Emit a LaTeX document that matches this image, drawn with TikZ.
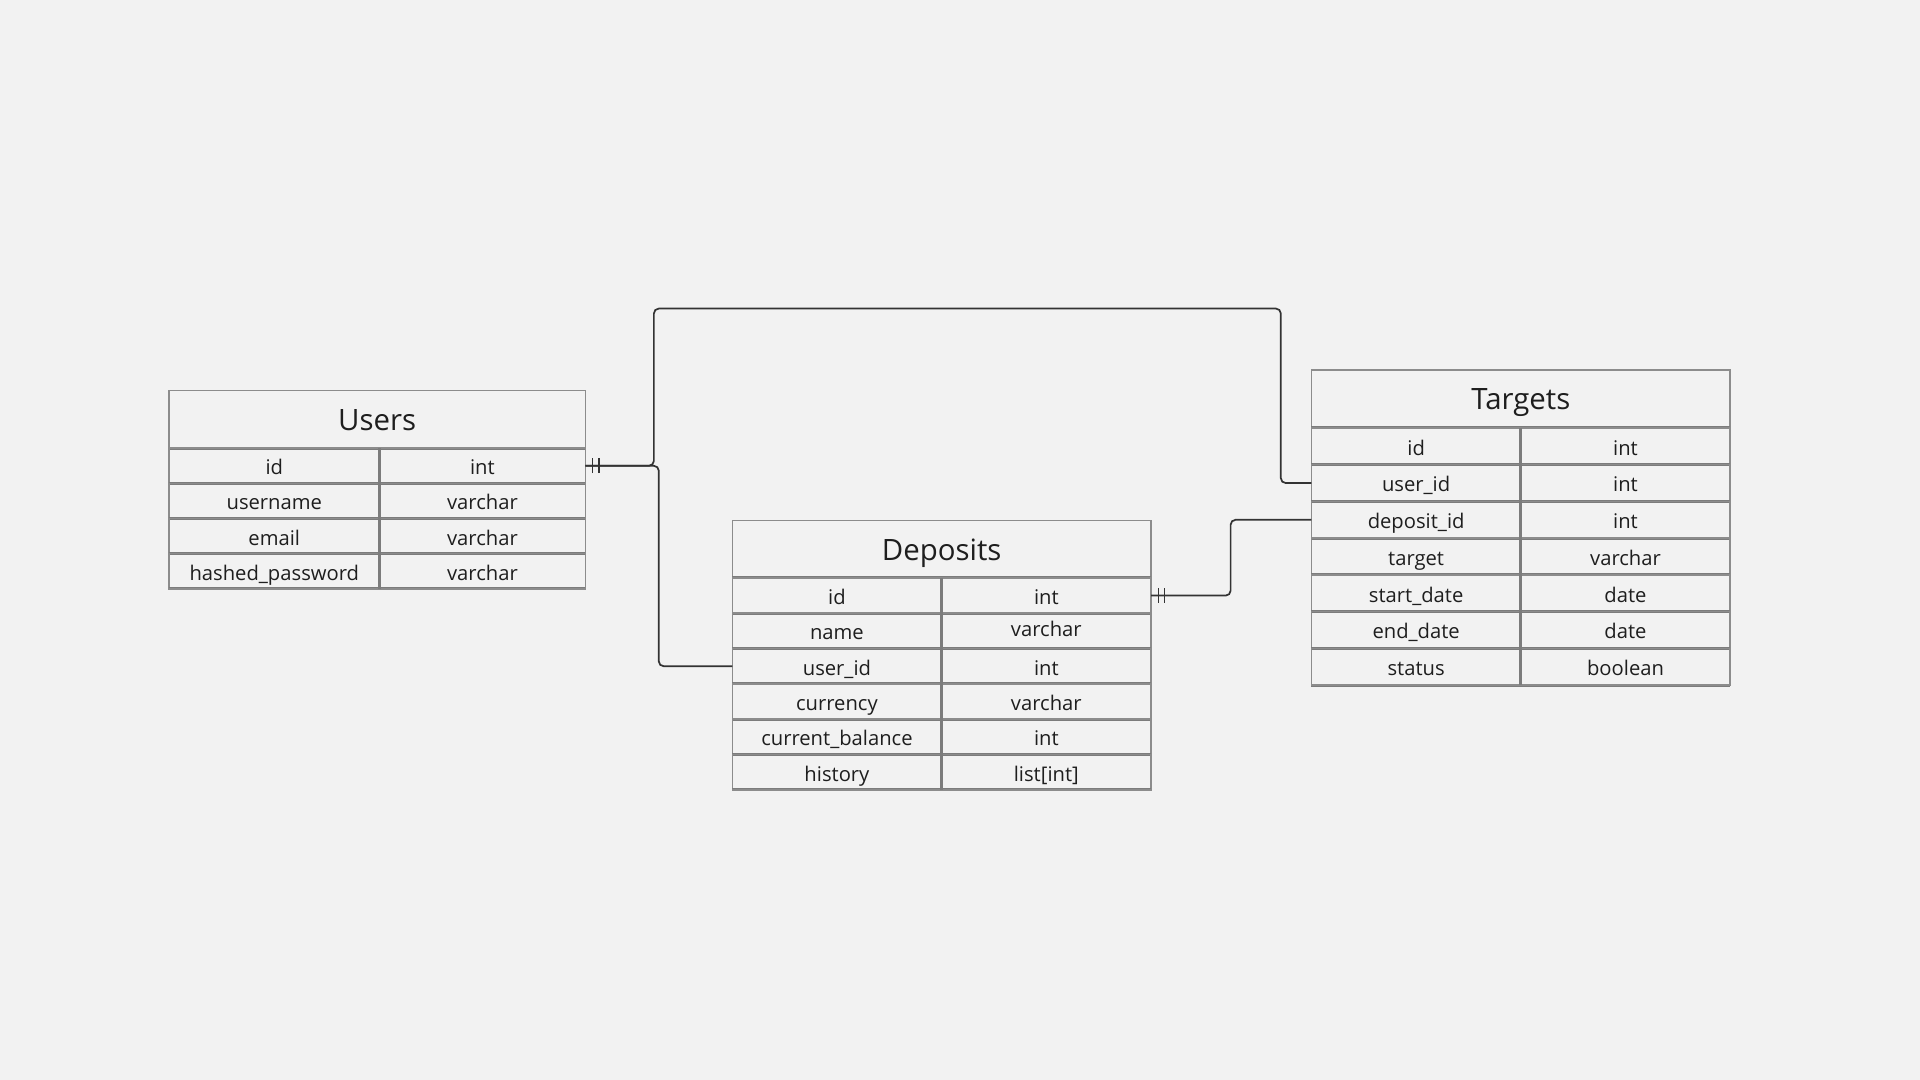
\documentclass[tikz,border=0pt]{standalone}
\usepackage{fontspec}
\setmainfont{Open Sans}
\definecolor{bg}{HTML}{F2F2F2}
\definecolor{gridgray}{HTML}{8C8C8C}
\definecolor{divgray}{HTML}{7C7C7C}
\definecolor{ink}{HTML}{1E1E1E}
\definecolor{connc}{HTML}{333333}
\newcommand\rowfont{\fontsize{16.5}{20}\selectfont}
\newcommand\titlefont{\fontsize{24}{29}\selectfont}
% #1 id, #2 left centre x, #3 right centre x, #4 centre y, #5 left width, #6 right width, #7 row height, #8 field, #9 type
\newcommand\erfield[9]{%
  \node[cell, minimum width=#5pt, minimum height=#7pt] (#1-k) at (#2,#4) {#8};
  \node[cell, minimum width=#6pt, minimum height=#7pt] (#1-v) at (#3,#4) {#9};
  \draw[divline] (#1-k.south west) -- (#1-v.south east);
}
\begin{document}
\begin{tikzpicture}[x=1pt,y=-1pt,
  cell/.style={draw=gridgray, line width=1.2pt, inner sep=0pt, outer sep=0pt, text=ink, font=\rowfont,
    text height=15pt, text depth=0.5pt, anchor=center},
  headcell/.style={draw=gridgray, line width=1.2pt, inner sep=0pt, outer sep=0pt, text=ink, font=\titlefont,
    text height=18.5pt, text depth=0.5pt, anchor=center},
  divline/.style={draw=divgray, line width=2.4pt},
  conn/.style={draw=connc, line width=1.4pt, rounded corners=4pt},
  tick/.style={draw=connc, line width=1.3pt}]
\useasboundingbox[fill=bg] (0,0) rectangle (1568,882);

% ---------- Users ----------
\node[headcell, minimum width=340pt, minimum height=47pt] (users) at (308,342.5) {Users};
\draw[divline] (users.south west) -- (users.south east);
\erfield{u-id}{224}{394}{380.4}{172}{168}{28.75}{id}{int}
\erfield{u-un}{224}{394}{409.1}{172}{168}{28.75}{username}{varchar}
\erfield{u-em}{224}{394}{437.9}{172}{168}{28.75}{email}{varchar}
\erfield{u-hp}{224}{394}{466.6}{172}{168}{28.75}{hashed\_password}{varchar}
\draw[gridgray, line width=1.2pt] (u-hp-k.south west) -- (u-hp-v.south east);
\draw[divline] (u-id-k.north east) -- (u-hp-k.south east);

% ---------- Deposits ----------
\node[headcell, minimum width=342pt, minimum height=47pt] (deposits) at (769,448.5) {Deposits};
\draw[divline] (deposits.south west) -- (deposits.south east);
\erfield{d-id}{683.5}{854.5}{486.4}{171}{171}{28.83}{id}{int}
\erfield{d-nm}{683.5}{854.5}{515.2}{171}{171}{28.83}{name}{\raisebox{2.5pt}{varchar}}
\erfield{d-uid}{683.5}{854.5}{544.1}{171}{171}{28.83}{user\_id}{int}
\erfield{d-cu}{683.5}{854.5}{572.9}{171}{171}{28.83}{currency}{varchar}
\erfield{d-cb}{683.5}{854.5}{601.7}{171}{171}{28.83}{current\_balance}{int}
\erfield{d-hi}{683.5}{854.5}{630.6}{171}{171}{28.83}{history}{list[int]}
\draw[gridgray, line width=1.2pt] (d-hi-k.south west) -- (d-hi-v.south east);
\draw[divline] (d-id-k.north east) -- (d-hi-k.south east);

% ---------- Targets ----------
\node[headcell, minimum width=342pt, minimum height=47pt] (targets) at (1242,325.5) {Targets};
\draw[divline] (targets.south west) -- (targets.south east);
\erfield{t-id}{1156.5}{1327.5}{364.5}{171}{171}{30}{id}{int}
\erfield{t-uid}{1156.5}{1327.5}{394.5}{171}{171}{30}{user\_id}{int}
\erfield{t-did}{1156.5}{1327.5}{424.5}{171}{171}{30}{deposit\_id}{int}
\erfield{t-tg}{1156.5}{1327.5}{454.5}{171}{171}{30}{target}{varchar}
\erfield{t-sd}{1156.5}{1327.5}{484.5}{171}{171}{30}{start\_date}{date}
\erfield{t-ed}{1156.5}{1327.5}{514.5}{171}{171}{30}{end\_date}{date}
\erfield{t-st}{1156.5}{1327.5}{544.5}{171}{171}{30}{status}{boolean}
\draw[gridgray, line width=1.2pt] (t-st-k.south west) -- (t-st-v.south east);
\draw[divline] (t-id-k.north east) -- (t-st-k.south east);

% ---------- Connectors ----------
\coordinate (c1) at (534,252);
\coordinate (c2) at (1046,252);
\coordinate (c3) at (538,0);
\coordinate (c4) at (1005,0);

\draw[conn] (u-id-v.east) -| (c1) -- (c2) |- (t-uid-k.west);
\draw[conn] (u-id-v.east) -- (u-id-v.east -| c3) |- (d-uid-k.west);
\draw[conn] (d-id-v.east) -- (d-id-v.east -| c4) |- (t-did-k.west);

% one-and-only-one markers
\draw[tick] ([xshift=6pt,yshift=-6pt]u-id-v.east) -- ([xshift=6pt,yshift=6pt]u-id-v.east);
\draw[tick] ([xshift=11pt,yshift=-6pt]u-id-v.east) -- ([xshift=11pt,yshift=6pt]u-id-v.east);
\draw[tick] ([xshift=6pt,yshift=-6pt]d-id-v.east) -- ([xshift=6pt,yshift=6pt]d-id-v.east);
\draw[tick] ([xshift=11pt,yshift=-6pt]d-id-v.east) -- ([xshift=11pt,yshift=6pt]d-id-v.east);
\end{tikzpicture}
\end{document}
